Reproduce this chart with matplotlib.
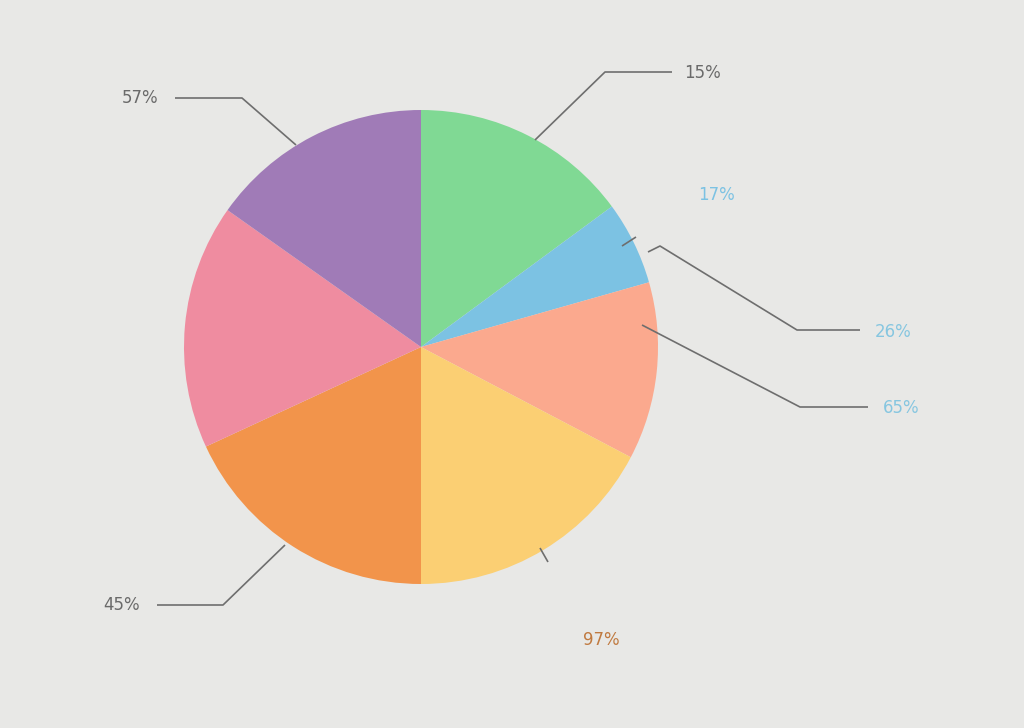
import matplotlib
matplotlib.use("Agg")
from matplotlib import pyplot as plt

# slice shares (degrees of arc -> percent), clockwise from 12 o'clock
slices = ["green", "blue", "salmon", "yellow", "orange", "pink", "purple"]
shares = [14.9, 5.7, 12.1, 17.3, 18.1, 16.7, 15.2]
colours = ["#80d994", "#7cc2e3", "#fba98e", "#fbcf73", "#f2944b", "#ef8ca0", "#a07bb7"]

# the labels printed on the chart (they do not match the slices)
labels = ["15%", "17%", "26%", "65%", "45%", "97%", "57%"]
label_colours = ["#6a6a6a", "#7cc2e3", "#86c6e0", "#86c6e0", "#6a6a6a", "#c07a40", "#6a6a6a"]

W, H = 1024, 728
fig = plt.figure(figsize=(W / 100, H / 100), dpi=100, facecolor="#e8e8e6")
ax = fig.add_axes([0, 0, 1, 1])
ax.set_xlim(0, W)
ax.set_ylim(0, H)
ax.set_aspect("equal")
ax.axis("off")

cx, cy, r = 421, H - 347, 237
ax.pie(shares, colors=colours, startangle=90, counterclock=False,
       center=(cx, cy), radius=r, frame=True,
       wedgeprops=dict(linewidth=0))
ax.set_xlim(0, W)
ax.set_ylim(0, H)
ax.axis("off")

# leader lines (image pixel coords, y measured from top)
leaders = [
    [(535, 140), (605, 72), (672, 72)],
    [(622, 246), (636, 237)],
    [(648, 252), (660, 246), (797, 330), (860, 330)],
    [(642, 325), (800, 407), (868, 407)],
    [(285, 545), (223, 605), (157, 605)],
    [(540, 548), (548, 562)],
    [(296, 145), (242, 98), (175, 98)],
]
for pts in leaders:
    xs = [p[0] for p in pts]
    ys = [H - p[1] for p in pts]
    ax.plot(xs, ys, color="#6e6e6e", lw=1.2, solid_capstyle="butt")

label_pos = [(703, 73), (717, 195), (893, 332), (901, 408), (122, 605), (601, 640), (140, 98)]
for txt, col, (x, y) in zip(labels, label_colours, label_pos):
    ax.text(x, H - y, txt, color=col, fontsize=12, ha="center", va="center",
            family="DejaVu Sans")

fig.savefig("out.png", dpi=100, facecolor=fig.get_facecolor())
